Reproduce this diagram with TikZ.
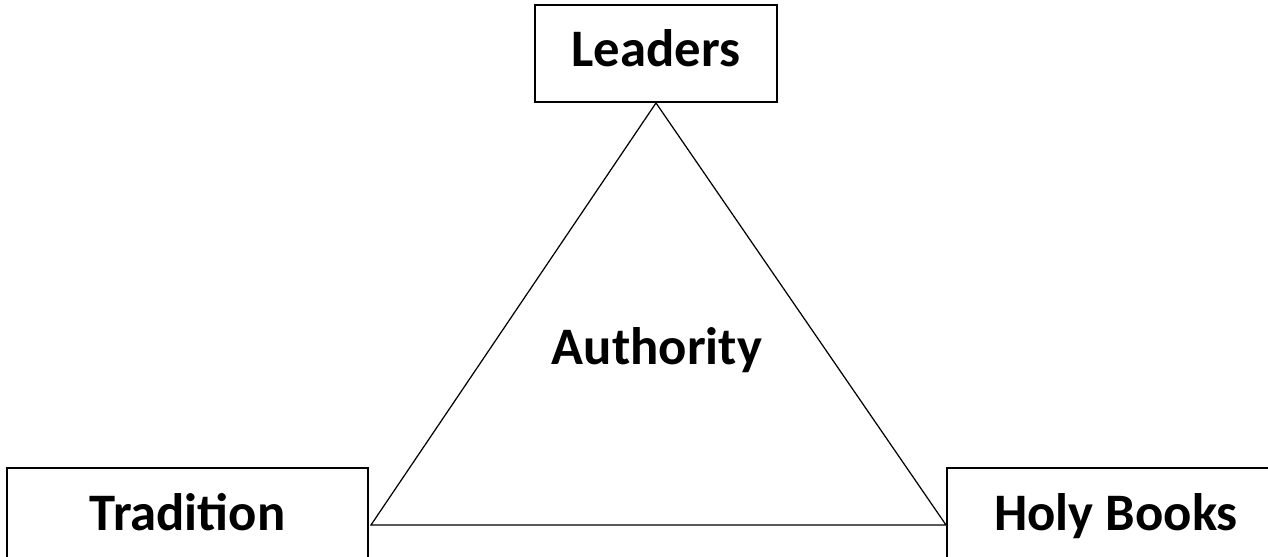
\documentclass[tikz,border=0pt]{standalone}
\usepackage{fontspec}
\setmainfont{Carlito}
\usetikzlibrary{positioning}

\begin{document}
\begin{tikzpicture}[x=0.02cm, y=-0.02cm,
	box/.style={draw, line width=1.1pt, inner sep=0pt, font=\bfseries\fontsize{30}{35}\selectfont},
	word/.style={inner sep=0pt, font=\bfseries\fontsize{30}{35}\selectfont}]
	% Fix the page size and cut off what lies beyond it
	\useasboundingbox (0,0) rectangle (1268,557);
	\clip (0,0) rectangle (1268,557);
	
	% Draw the three boxes
	\node[box, minimum width=242*0.02cm, minimum height=97*0.02cm, text height=0.64cm, text depth=0.1cm] (leaders) at (656,53.5) {Leaders};
	\node[box, minimum width=361*0.02cm, minimum height=114*0.02cm, text height=0.6cm, text depth=0.4cm] (tradition) at (187.5,525) {Tradition};
	\node[box, minimum width=390*0.02cm, minimum height=114*0.02cm, text height=0.6cm, text depth=0.4cm, xshift=26*0.02cm] (holybooks) at (1116,525) {};
	\node[word, text height=0.6cm, text depth=0.4cm] (holytext) at (1116,525) {Holy Books};
	
	% Draw the triangle between the boxes
	\draw[line width=0.7pt, line join=miter] (leaders.south) -- ([xshift=0.04cm]tradition.east) -- (holybooks.west) -- cycle;
	
	% Label the middle
	\node[word] (authority) at (657,350) {Authority};
\end{tikzpicture}
\end{document}
